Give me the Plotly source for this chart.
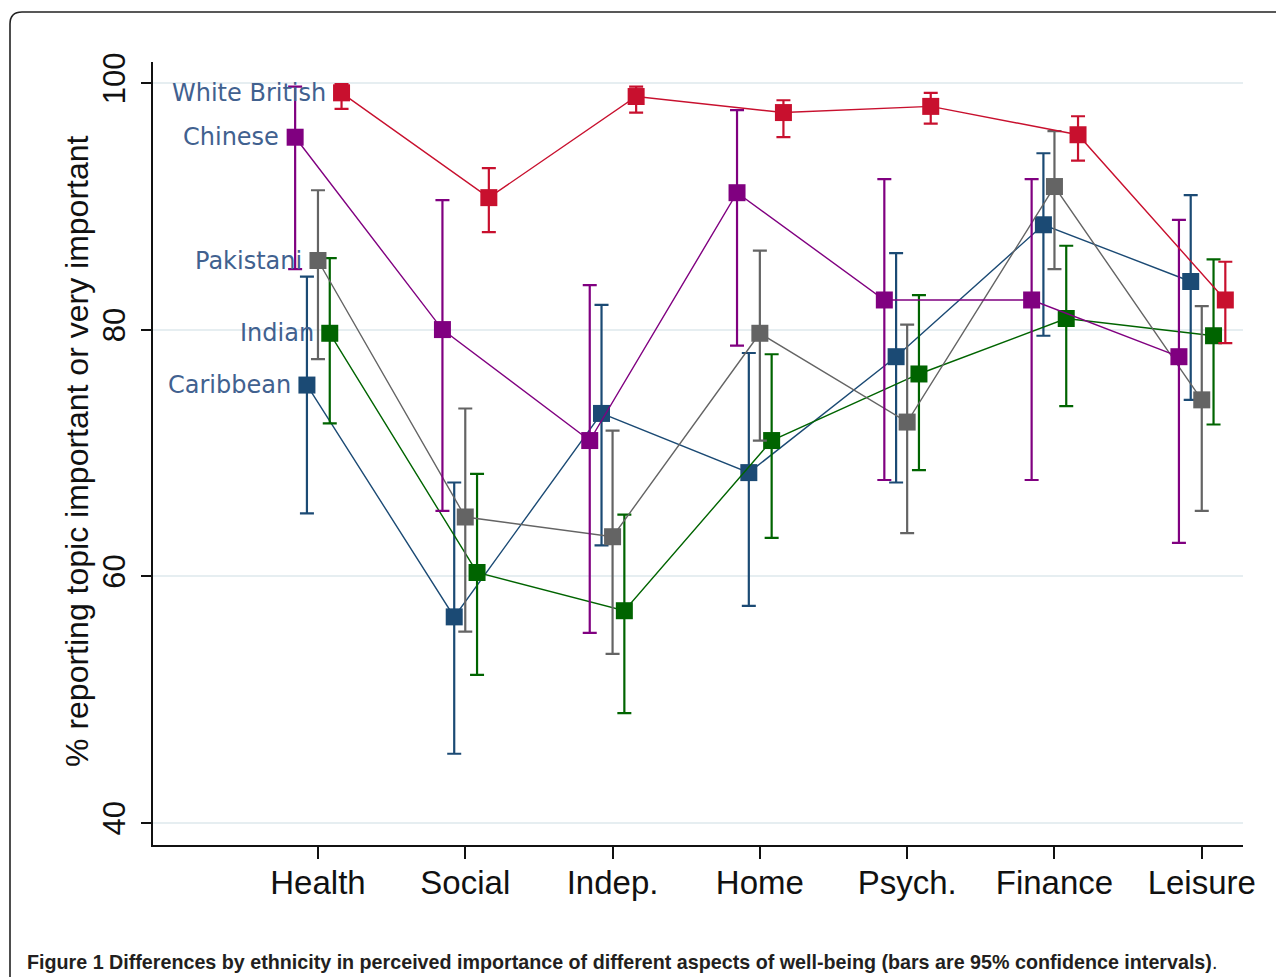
import plotly.graph_objects as go

categories = ["Health", "Social", "Indep.", "Home", "Psych.", "Finance", "Leisure"]

caribbean = [75.5, 56.7, 73.2, 68.4, 77.8, 88.5, 83.9]
caribbean_lo = [65.1, 45.6, 62.5, 57.6, 67.6, 79.5, 74.3]
caribbean_hi = [84.3, 67.6, 82.0, 78.1, 86.2, 94.3, 90.9]

indian = [79.7, 60.3, 57.2, 71.0, 76.4, 80.9, 79.5]
indian_lo = [72.4, 52.0, 48.9, 63.1, 68.6, 73.8, 72.3]
indian_hi = [85.8, 68.3, 65.0, 78.0, 82.8, 86.8, 85.7]

pakistani = [85.6, 64.8, 63.2, 79.7, 72.5, 91.6, 74.3]
pakistani_lo = [77.6, 55.5, 53.7, 71.0, 63.5, 84.9, 65.3]
pakistani_hi = [91.3, 73.6, 71.8, 86.4, 80.4, 96.1, 81.9]

chinese = [95.6, 80.0, 71.0, 91.1, 82.4, 82.4, 77.8]
chinese_lo = [84.9, 65.3, 55.4, 78.7, 67.8, 67.8, 62.7]
chinese_hi = [99.7, 90.5, 83.6, 97.8, 92.2, 92.2, 88.9]

white_british = [99.2, 90.7, 98.9, 97.6, 98.1, 95.8, 82.4]
white_british_lo = [97.9, 87.9, 97.6, 95.6, 96.7, 93.7, 78.9]
white_british_hi = [99.9, 93.1, 99.7, 98.6, 99.2, 97.3, 85.5]

y_ticks = [40, 60, 80, 100]
y_title = "% reporting topic important or very important"
caption = ("<b>Figure 1</b> <b>Differences by ethnicity in perceived importance of different "
           "aspects of well-being (bars are 95% confidence intervals)</b>.")

series = [
    ("Caribbean", caribbean, caribbean_lo, caribbean_hi, "#1b4a74", -0.075),
    ("Indian", indian, indian_lo, indian_hi, "#006400", 0.08),
    ("Pakistani", pakistani, pakistani_lo, pakistani_hi, "#646464", 0.0),
    ("Chinese", chinese, chinese_lo, chinese_hi, "#800080", -0.155),
    ("White British", white_british, white_british_lo, white_british_hi, "#c8102e", 0.16),
]

fig = go.Figure()
for name, vals, lo, hi, color, off in series:
    xs = [i + off for i in range(len(categories))]
    fig.add_trace(go.Scatter(
        x=xs, y=vals, mode="lines+markers", name=name,
        line=dict(color=color, width=1.4),
        marker=dict(symbol="square", size=17, color=color),
        error_y=dict(type="data", symmetric=False,
                     array=[h - v for h, v in zip(hi, vals)],
                     arrayminus=[v - l for v, l in zip(vals, lo)],
                     color=color, thickness=2.2, width=7),
        showlegend=False,
    ))
    fig.add_annotation(x=xs[0], y=vals[0], xref="x", yref="y", text=name,
                       showarrow=False, xanchor="right", yanchor="middle", xshift=-14,
                       font=dict(family="DejaVu Sans", size=24, color="#41618f"))

# y-axis title
fig.add_annotation(x=0, y=0.502, xref="paper", yref="paper", text=y_title, showarrow=False,
                   textangle=-90, xanchor="center", yanchor="middle", xshift=-76,
                   font=dict(family="Liberation Sans, Arial", size=32, color="#111111"))

# caption
fig.add_annotation(x=0, y=0, xref="paper", yref="paper", text=caption, showarrow=False,
                   xanchor="left", yanchor="middle", xshift=-128, yshift=-117,
                   font=dict(family="Liberation Sans Narrow, Arial Narrow, Liberation Sans",
                             size=19.7, color="#231f20"))

# rounded frame (left/top visible)
W, H = 1090.0, 783.0
r = 12.0
x0 = -143 / W
y_top = 1 + 50 / H
x1 = 1 + 60 / W
y_bot = -150 / H
path = (f"M {x0},{y_bot} L {x0},{y_top - r / H} Q {x0},{y_top} {x0 + r / W},{y_top} "
        f"L {x1},{y_top}")
fig.add_shape(type="path", xref="paper", yref="paper", path=path,
              line=dict(color="#222222", width=1.6))

# page body adds an 8px offset, so the figure is sized 8px smaller with trimmed margins
fig.update_layout(
    width=1276, height=969,
    margin=dict(l=145, r=41, t=54, b=132),
    paper_bgcolor="white", plot_bgcolor="white",
    font=dict(family="Liberation Sans, Arial", color="#111111"),
    xaxis=dict(
        range=[-1.12, 6.28], tickvals=list(range(len(categories))), ticktext=categories,
        showgrid=False, zeroline=False, showline=True, linecolor="#111111", linewidth=2,
        ticks="outside", ticklen=12, tickwidth=2, tickcolor="#111111",
        tickfont=dict(size=33, color="#111111"), ticklabelstandoff=-5,
    ),
    yaxis=dict(
        range=[38.2, 101.7], tickvals=y_ticks, tickangle=-90,
        showgrid=True, gridcolor="#e6eef1", gridwidth=2, zeroline=False,
        showline=True, linecolor="#111111", linewidth=2,
        ticks="outside", ticklen=10, tickwidth=2, tickcolor="#111111",
        tickfont=dict(size=31, color="#111111"), ticklabelstandoff=4,
    ),
)

fig.write_html("out.html")
